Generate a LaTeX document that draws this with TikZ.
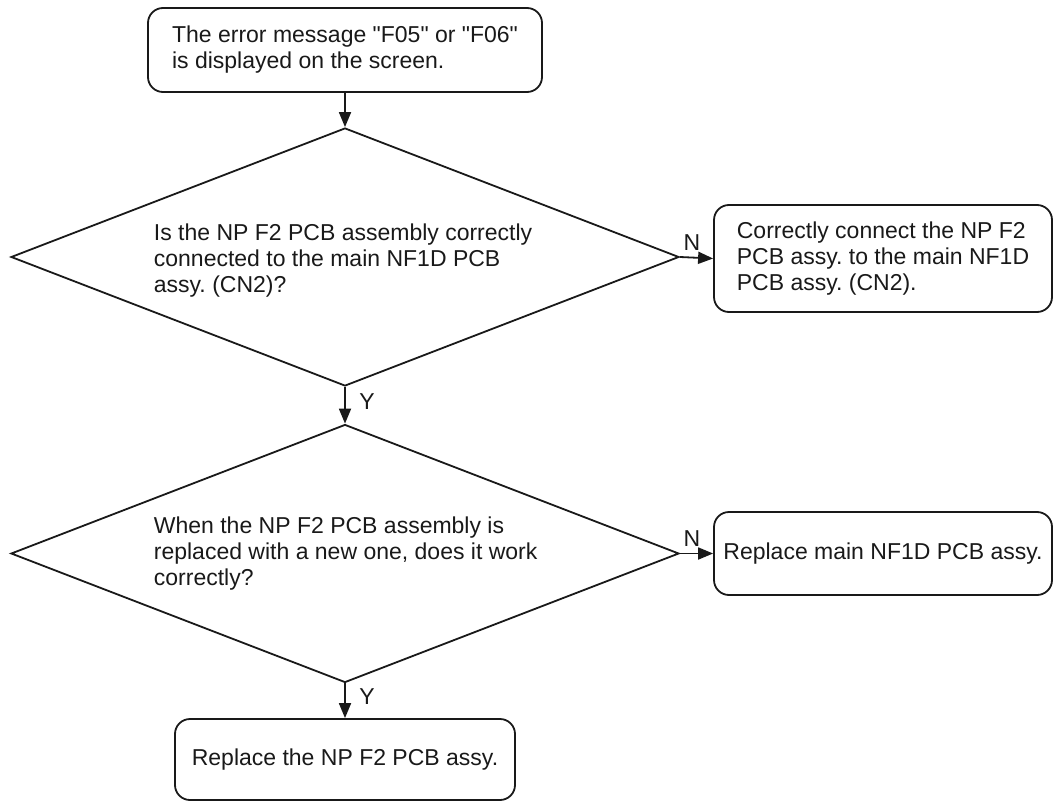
\documentclass[tikz,border=0pt]{standalone}
\usepackage{fontspec}
\setmainfont{Liberation Sans}[Ligatures=TeXOff]
\usetikzlibrary{shapes.geometric,arrows.meta}
\begin{document}
\frenchspacing
\begin{tikzpicture}[x=1pt,y=-1pt,
  font=\fontsize{23}{26}\selectfont,
  line width=1.8pt, draw=black!90, text=black!90,
  proc/.style={draw, rectangle, rounded corners=15pt, align=left, inner sep=0pt},
  dec/.style={draw, diamond, inner sep=0pt, minimum width=668pt, minimum height=258pt},
  dtext/.style={anchor=west, align=left, inner sep=0pt},
  arr/.style={-{Triangle[length=15pt,width=12pt]}},
  lab/.style={inner sep=0pt}
]
\useasboundingbox (0,0) rectangle (1054,802);
\node[proc, minimum width=394pt, minimum height=84pt] (top) at (345,50)
  {The error message "F05" or "F06"\\is displayed on the screen.};
\node[dec] (d1) at (345,257) {};
\node[dtext] (t1) at (153,261)
  {Is the NP F2 PCB assembly correctly\\connected to the main NF1D PCB\\assy. (CN2)?};
\node[proc, minimum width=338pt, minimum height=107pt] (b2) at (883,258.5)
  {Correctly connect the NP F2\\PCB assy. to the main NF1D\\PCB assy. (CN2).};
\node[dec] (d2) at (345,553.5) {};
\node[dtext] (t2) at (153,553.5)
  {When the NP F2 PCB assembly is\\replaced with a new one, does it work\\correctly?};
\node[proc, minimum width=338pt, minimum height=83pt] (b3) at (883,553.5)
  {Replace main NF1D PCB assy.};
\node[proc, minimum width=340pt, minimum height=81pt] (b4) at (345,759.5)
  {Replace the NP F2 PCB assy.};

\draw[arr] (top.south) -- (d1.north);
\draw[arr] (d1.east) -- (b2.west);
\draw[arr] (d1.south) -- (d2.north);
\draw[arr] (d2.east) -- (b3.west);
\draw[arr] (d2.south) -- (b4.north);

\node[lab] (n1) at (692,243) {N};
\node[lab] (n2) at (692,539) {N};
\node[lab] (y1) at (367,402) {Y};
\node[lab] (y2) at (367,697) {Y};
\end{tikzpicture}
\end{document}
